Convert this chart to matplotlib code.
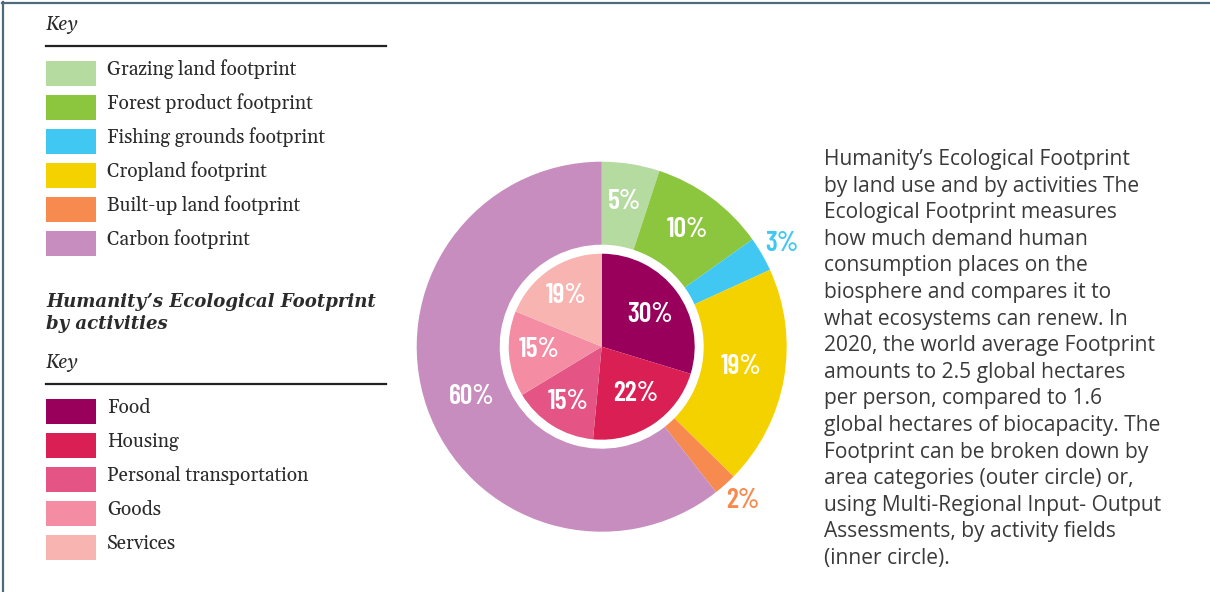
import matplotlib
matplotlib.use("Agg")
import matplotlib.pyplot as plt
from matplotlib.lines import Line2D
from matplotlib.patches import Rectangle

# Land-use categories (outer ring)
land_labels = ["Grazing land footprint", "Forest product footprint",
               "Fishing grounds footprint", "Cropland footprint",
               "Built-up land footprint", "Carbon footprint"]
land_values = [5, 10, 3, 19, 2, 60]
land_colors = ["#b6dba0", "#8cc63f", "#41c8f2", "#f4d200", "#f78b4f", "#c78dbf"]

# Activity categories (inner pie)
activity_labels = ["Food", "Housing", "Personal transportation", "Goods", "Services"]
activity_values = [30, 22, 15, 15, 19]
activity_colors = ["#99005b", "#d91f54", "#e45585", "#f48ca3", "#f8b4b0"]

description = ("Humanity\u2019s Ecological Footprint\n"
               "by land use and by activities The\n"
               "Ecological Footprint measures\n"
               "how much demand human\n"
               "consumption places on the\n"
               "biosphere and compares it to\n"
               "what ecosystems can renew. In\n"
               "2020, the world average Footprint\n"
               "amounts to 2.5 global hectares\n"
               "per person, compared to 1.6\n"
               "global hectares of biocapacity. The\n"
               "Footprint can be broken down by\n"
               "area categories (outer circle) or,\n"
               "using Multi-Regional Input- Output\n"
               "Assessments, by activity fields\n"
               "(inner circle).")

W, H = 1210, 592
fig = plt.figure(figsize=(W / 100, H / 100), dpi=100)
fig.patch.set_facecolor("white")

# overlay axes in pixel coordinates (y downward) for the keys and frame
ov = fig.add_axes([0, 0, 1, 1])
ov.set_xlim(0, W)
ov.set_ylim(H, 0)
ov.axis("off")

frame_col = "#4d6b7b"
ov.add_line(Line2D([2.5, 2.5], [2, H], color=frame_col, lw=1.6))
ov.add_line(Line2D([2, W], [2.5, 2.5], color=frame_col, lw=1.6))

serif = ["Gelasio", "Liberation Serif"]
text_col = "#2b2b2b"
key_size = 13.8


def draw_key(y_key, y_rule, y_first, labels, colors):
    ov.text(46, y_key, "Key", fontfamily=serif, fontstyle="italic",
            fontsize=key_size, color=text_col, va="center", ha="left")
    ov.add_line(Line2D([46, 386], [y_rule, y_rule], color="#222222", lw=1.6))
    for i, (lab, col) in enumerate(zip(labels, colors)):
        yc = y_first + 34 * i
        ov.add_patch(Rectangle((46, yc - 12.5), 50, 25, facecolor=col,
                               edgecolor="none"))
        ov.text(107, yc - 4, lab, fontfamily=serif, fontsize=key_size,
                color=text_col, va="center", ha="left")


draw_key(25, 45.5, 73.5, land_labels, land_colors)

ov.text(46, 313, "Humanity\u2019s Ecological Footprint\nby activities",
        fontfamily="DejaVu Serif", fontstyle="italic", fontweight="bold",
        fontsize=13.1, color=text_col, va="center", ha="left", linespacing=1.32)

draw_key(362, 384, 411.5, activity_labels, activity_colors)

ov.text(824, 149, description, fontfamily="Open Sans", fontsize=15.1,
        color="#3a3a3a", va="top", ha="left", linespacing=1.35)

# pie axes: centre (601.7, 346.7), outer radius 185 px
cx, cy, R = 601.7, 346.7, 185.0
size = 2 * R + 4
ax = fig.add_axes([(cx - size / 2) / W, 1 - (cy + size / 2) / H, size / W, size / H])
ax.set_aspect("equal")
ax.axis("off")

r_in_outer = 102.0
r_inner = 93.0
ax.pie(land_values, colors=land_colors, radius=R, startangle=90,
       counterclock=False, wedgeprops=dict(width=R - r_in_outer, edgecolor="none"))
ax.pie(activity_values, colors=activity_colors, radius=r_inner, startangle=90,
       counterclock=False, wedgeprops=dict(edgecolor="none"))
ax.set_xlim(-size / 2, size / 2)
ax.set_ylim(-size / 2, size / 2)

lab_font = dict(fontfamily=["Barlow Condensed", "DejaVu Sans"],
                fontweight="semibold", fontsize=20, ha="center", va="center")


def pct(v):
    return f"{v}%"


# label positions in pixel offsets from centre (x right, y down)
land_pos = [(22.6, -145.0), (85.6, -117.4), (180.0, -103.4),
            (139.0, 20.0), (141.0, 153.3), (-130.0, 49.3)]
land_text_col = ["white", "white", "#41c8f2", "white", "#f78b4f", "white"]
for v, (dx, dy), tc in zip(land_values, land_pos, land_text_col):
    ax.text(dx, -dy, pct(v), color=tc, **lab_font)

act_pos = [(48.3, -32.7), (34.0, 46.6), (-34.0, 54.3), (-62.4, 2.6), (-36.0, -51.7)]
for v, (dx, dy) in zip(activity_values, act_pos):
    ax.text(dx, -dy, pct(v), color="white", **lab_font)

fig.savefig("out.png", dpi=100, facecolor="white")
